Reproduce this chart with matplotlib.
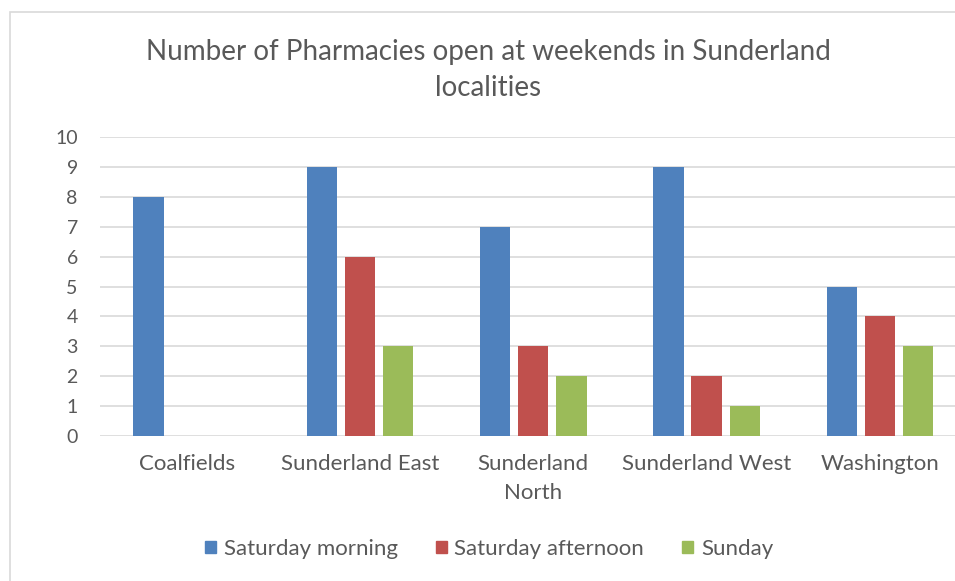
import matplotlib
matplotlib.use("Agg")
import matplotlib.pyplot as plt
import matplotlib.patches as mpatches
import numpy as np

# values
localities = ["Coalfields", "Sunderland East", "Sunderland\nNorth", "Sunderland West", "Washington"]
sat_morning = [8, 9, 7, 9, 5]
sat_afternoon = [0, 6, 3, 2, 4]
sunday = [0, 3, 2, 1, 3]
series_names = ["Saturday morning", "Saturday afternoon", "Sunday"]
colors = ["#4F81BD", "#C0504D", "#9BBB59"]

plt.rcParams['font.family'] = ['Lato', 'DejaVu Sans']
text_col = "#595959"

W, H = 955, 581
fig = plt.figure(figsize=(W / 100, H / 100), dpi=100)

# chart area border
fig.patches.append(mpatches.Rectangle((10 / W, -0.01), 1.0, 1 - 12 / H + 0.01,
                                      transform=fig.transFigure, fill=False,
                                      edgecolor="#d9d9d9", linewidth=1.2, zorder=0))

ax = fig.add_axes([100 / W, 1 - 436 / H, (W - 100) / W, (436 - 137) / H])

x = np.arange(len(localities))
step = 0.22
width = 0.175
for i, (vals, name, c) in enumerate(zip([sat_morning, sat_afternoon, sunday], series_names, colors)):
    ax.bar(x + (i - 1) * step, vals, width=width, color=c, label=name, zorder=3)

ax.set_ylim(0, 10)
ax.set_yticks(range(0, 11))
ax.set_xlim(-0.5, -0.5 + (W - 100) / 173.3)
ax.set_xticks(x)
ax.set_xticklabels(localities, fontsize=16, color=text_col, linespacing=1.55)
ax.tick_params(axis='y', labelsize=14, labelcolor=text_col, length=0, pad=16)
ax.tick_params(axis='x', length=0, pad=13)
ax.yaxis.grid(True, color="#d9d9d9", linewidth=1.2, zorder=0)
for s in ax.spines.values():
    s.set_visible(False)

fig.text(488 / W, 1 - 70 / H,
         "Number of Pharmacies open at weekends in Sunderland\nlocalities",
         ha="center", va="center", fontsize=20, color=text_col, linespacing=1.45)

handles = [mpatches.Patch(color=c, label=n) for c, n in zip(colors, series_names)]
fig.legend(handles=handles, loc="center", bbox_to_anchor=(489 / W, 1 - 549 / H),
           ncol=3, frameon=False, fontsize=16, labelcolor=text_col,
           handlelength=0.5, handleheight=0.5, handletextpad=0.35, columnspacing=1.7)

fig.savefig("out.png", dpi=100)
